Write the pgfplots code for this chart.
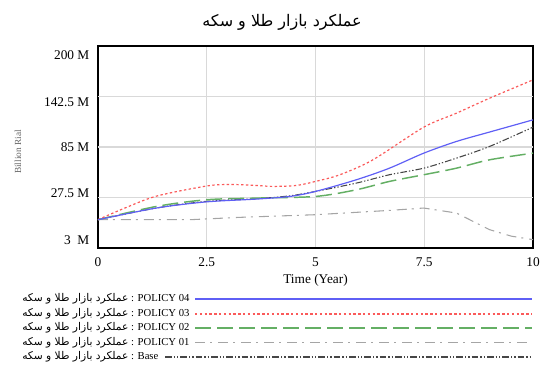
\documentclass[border=0pt]{standalone}
\usepackage{pgfplots}
\pgfplotsset{compat=1.18}
\usepackage{fontspec}
\setmainfont{Liberation Serif}
\newfontfamily\arabicfont[Script=Arabic]{DejaVu Sans}
\TeXXeTstate=1
\definecolor{cblue}{RGB}{95,95,245}
\definecolor{cred}{RGB}{250,90,90}
\definecolor{cgreen}{RGB}{100,175,100}
\definecolor{cgray}{RGB}{165,165,165}
\definecolor{cbase}{RGB}{70,70,70}
\tikzset{
  p04/.style={cblue, line width=0.9pt},
  p03/.style={cred, line width=0.9pt, dash pattern=on 1.8pt off 1.8pt},
  p02/.style={cgreen, line width=1.1pt, dash pattern=on 12pt off 4.5pt},
  p01/.style={cgray, line width=0.8pt, dash pattern=on 7.5pt off 3.75pt on 1.5pt off 4.5pt},
  pbase/.style={cbase, line width=0.8pt, dash pattern=on 5pt off 1.5pt on 1pt off 1.5pt on 1pt off 1.5pt},
}
\newcommand{\fa}{{\arabicfont\beginR عملکرد بازار طلا و سکه\endR}}
\begin{document}
\begin{tikzpicture}[x=0.75pt,y=0.75pt]
\useasboundingbox (0,0) rectangle (540,367);
\begin{axis}[
  at={(73.5pt,89.25pt)}, anchor=south west,
  scale only axis, width=326.25pt, height=151.5pt,
  xmin=0, xmax=10, ymin=-30, ymax=200,
  xtick={0,2.5,5,7.5,10}, xticklabels={0,2.5,5,7.5,10},
  ytick={-20.9,32.6,85,136.2,189.8},
  yticklabels={3\ \ M,27.5 M,85 M,142.5 M,200 M},
  extra y ticks={27.5,85,142.5}, extra y tick labels={},
  extra y tick style={ymajorgrids=true},
  ymajorgrids=false, xmajorgrids=true,
  tick style={draw=none},
  grid style={gray!30, line width=0.8pt},
  axis line style={black, line width=1.1pt},
  ticklabel style={font=\fontsize{10}{12}\selectfont},
  yticklabel style={xshift=-3pt},
  xticklabel style={yshift=-3.75pt},
  xlabel={Time (Year)}, xlabel style={font=\fontsize{10}{12}\selectfont, yshift=1pt},
  ylabel={Billion Rial},
  ylabel style={font=\fontsize{7}{8}\selectfont, text=gray!80!black, at={(axis description cs:-0.184,0.475)}, anchor=center},
  clip=true,
]
% Base
\addplot[pbase, smooth] coordinates {(0,2.2)(1.34,15.5)(2.49,23.1)(3.64,26.1)(4.41,29.4)(5.0,34.4)(5.94,43.9)(6.7,53.4)(7.49,60.9)(8.24,72.3)(9.0,85.6)(10,107.6)};
% POLICY 01
\addplot[p01] coordinates {(0,2.2)(1.0,2.2)(2.11,2.2)(3.26,4.9)(5.0,7.9)(6.7,12.8)(7.49,15.5)(8.24,9.8)(9.0,-9.1)(9.5,-16.5)(10,-20.5)};
% POLICY 02
\addplot[p02, smooth] coordinates {(0,2.2)(1.34,17.3)(2.49,24.9)(3.64,26.8)(5.0,28.7)(5.94,36.3)(6.7,45.8)(7.49,53.4)(8.24,60.9)(9.0,70.4)(10,78)};
% POLICY 03
\addplot[p03, smooth] coordinates {(0,2.2)(0.57,14.5)(1.34,29)(2.49,40.5)(3.03,42.3)(3.64,41.2)(4.02,40.1)(4.56,41.2)(5.0,45.8)(5.56,53.4)(6.32,70.4)(7.49,107.6)(8.24,123.5)(9.0,140.5)(10,161.4)};
% POLICY 04
\addplot[p04, smooth] coordinates {(0,2.2)(1.34,15.5)(2.49,22.5)(3.64,25.7)(4.41,28.7)(5.0,34.4)(5.94,47.7)(6.7,60.9)(7.49,78)(8.24,91.3)(9.0,102.0)(10,115.9)};
\end{axis}
% title
\node[font=\arabicfont\fontsize{12}{14}\selectfont] at (282,345) {\beginR عملکرد بازار طلا و سکه\endR};
% legend
\begin{scope}[every node/.style={anchor=west, inner sep=0pt, font=\fontsize{8}{9}\selectfont}]
\node at (22,68) {\fa\ : POLICY 04};
\draw[p04] (195,68) -- (532,68);
\node at (22,53.5) {\fa\ : POLICY 03};
\draw[p03] (195,53) -- (532,53);
\node at (22,39) {\fa\ : POLICY 02};
\draw[p02] (195,39) -- (532,39);
\node at (22,24.5) {\fa\ : POLICY 01};
\draw[p01] (195,24.5) -- (532,24.5);
\node at (22,10) {\fa\ : Base};
\draw[pbase] (165,10) -- (532,10);
\end{scope}
\end{tikzpicture}
\end{document}
